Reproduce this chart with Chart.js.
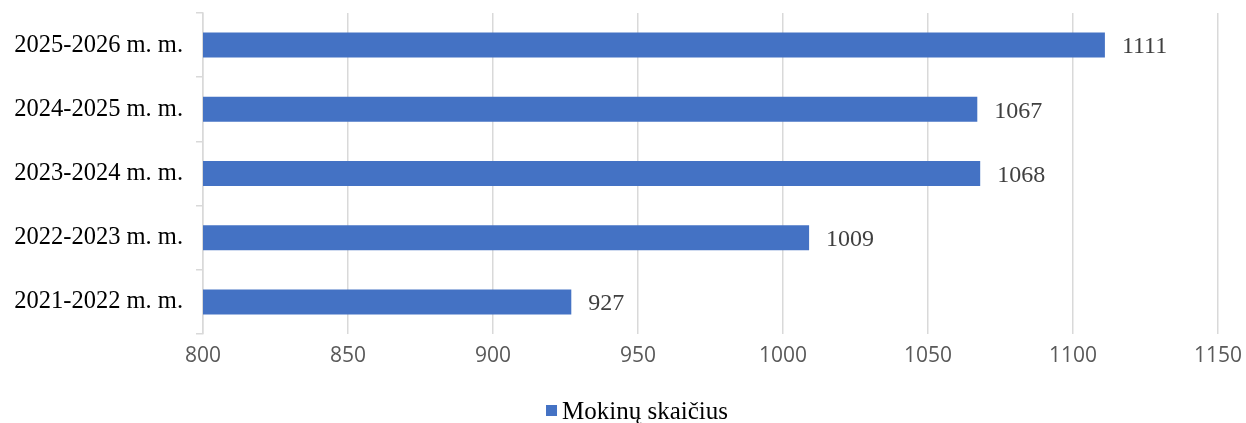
<!DOCTYPE html>
<html>
<head>
<meta charset="utf-8">
<script src="https://cdn.jsdelivr.net/npm/chart.js@4/dist/chart.umd.min.js"></script>
<style>
  html, body { margin: 0; padding: 0; background: #fff; }
  #wrap { width: 1246px; height: 423px; }
</style>
</head>
<body>
<div id="wrap"><canvas id="chart"></canvas></div>
<script>
// data (top to bottom)
const years = ["2025-2026 m. m.", "2024-2025 m. m.", "2023-2024 m. m.", "2022-2023 m. m.", "2021-2022 m. m."];
const students = [1111, 1067, 1068, 1009, 927];
const seriesName = "Mokinų skaičius";

const serif = "'Liberation Serif', 'Times New Roman', serif";
const barColor = "#4472C4";

// value labels at the end of each bar + legend under the axis
const barLabels = {
  id: "barLabels",
  afterDatasetsDraw(chart) {
    const ctx = chart.ctx;
    const meta = chart.getDatasetMeta(0);
    ctx.save();
    ctx.font = "24px " + serif;
    ctx.fillStyle = "#404040";
    ctx.textAlign = "left";
    ctx.textBaseline = "middle";
    meta.data.forEach((bar, i) => {
      ctx.fillText(students[i], bar.x + 17, bar.y + 2);
    });

    // legend (excel style: small square, tight gap)
    ctx.font = "25px " + serif;
    const tw = ctx.measureText(seriesName).width;
    const total = 11 + 5 + tw;
    const x0 = chart.width / 2 + 14 - total / 2;
    const y = 411;
    ctx.fillStyle = barColor;
    ctx.fillRect(x0, y - 6, 11, 11);
    ctx.fillStyle = "#000";
    ctx.fillText(seriesName, x0 + 16, y + 1);
    ctx.restore();
  }
};

new Chart(document.getElementById("chart"), {
  type: "bar",
  data: {
    labels: years,
    datasets: [{
      label: seriesName,
      data: students,
      backgroundColor: barColor,
      barPercentage: 0.39,
      categoryPercentage: 1
    }]
  },
  options: {
    indexAxis: "y",
    responsive: true,
    maintainAspectRatio: false,
    animation: false,
    layout: { padding: { top: 13, right: 28, left: 0, bottom: 0 } },
    plugins: {
      legend: { display: false },
      tooltip: { enabled: false }
    },
    scales: {
      x: {
        min: 800,
        max: 1150,
        ticks: {
          stepSize: 50,
          color: "#595959",
          padding: 9,
          callback: (v) => String(v),
          font: { family: "'Open Sans', 'Liberation Sans', sans-serif", size: 21 }
        },
        grid: { color: "#d9d9d9", lineWidth: 1.5, drawTicks: false },
        border: { display: false },
        afterFit: (s) => { s.height = 89; s.paddingLeft = 0; s.paddingRight = 0; }
      },
      y: {
        ticks: {
          color: "#000",
          padding: 13,
          font: { family: serif, size: 24.5 }
        },
        grid: {
          offset: true,
          drawOnChartArea: false,
          tickLength: 7,
          color: "#d9d9d9",
          lineWidth: 1.5
        },
        border: { color: "#d9d9d9", width: 1.5 },
        afterFit: (s) => { s.width = 203; s.paddingTop = 0; s.paddingBottom = 0; }
      }
    }
  },
  plugins: [barLabels]
});
</script>
</body>
</html>
